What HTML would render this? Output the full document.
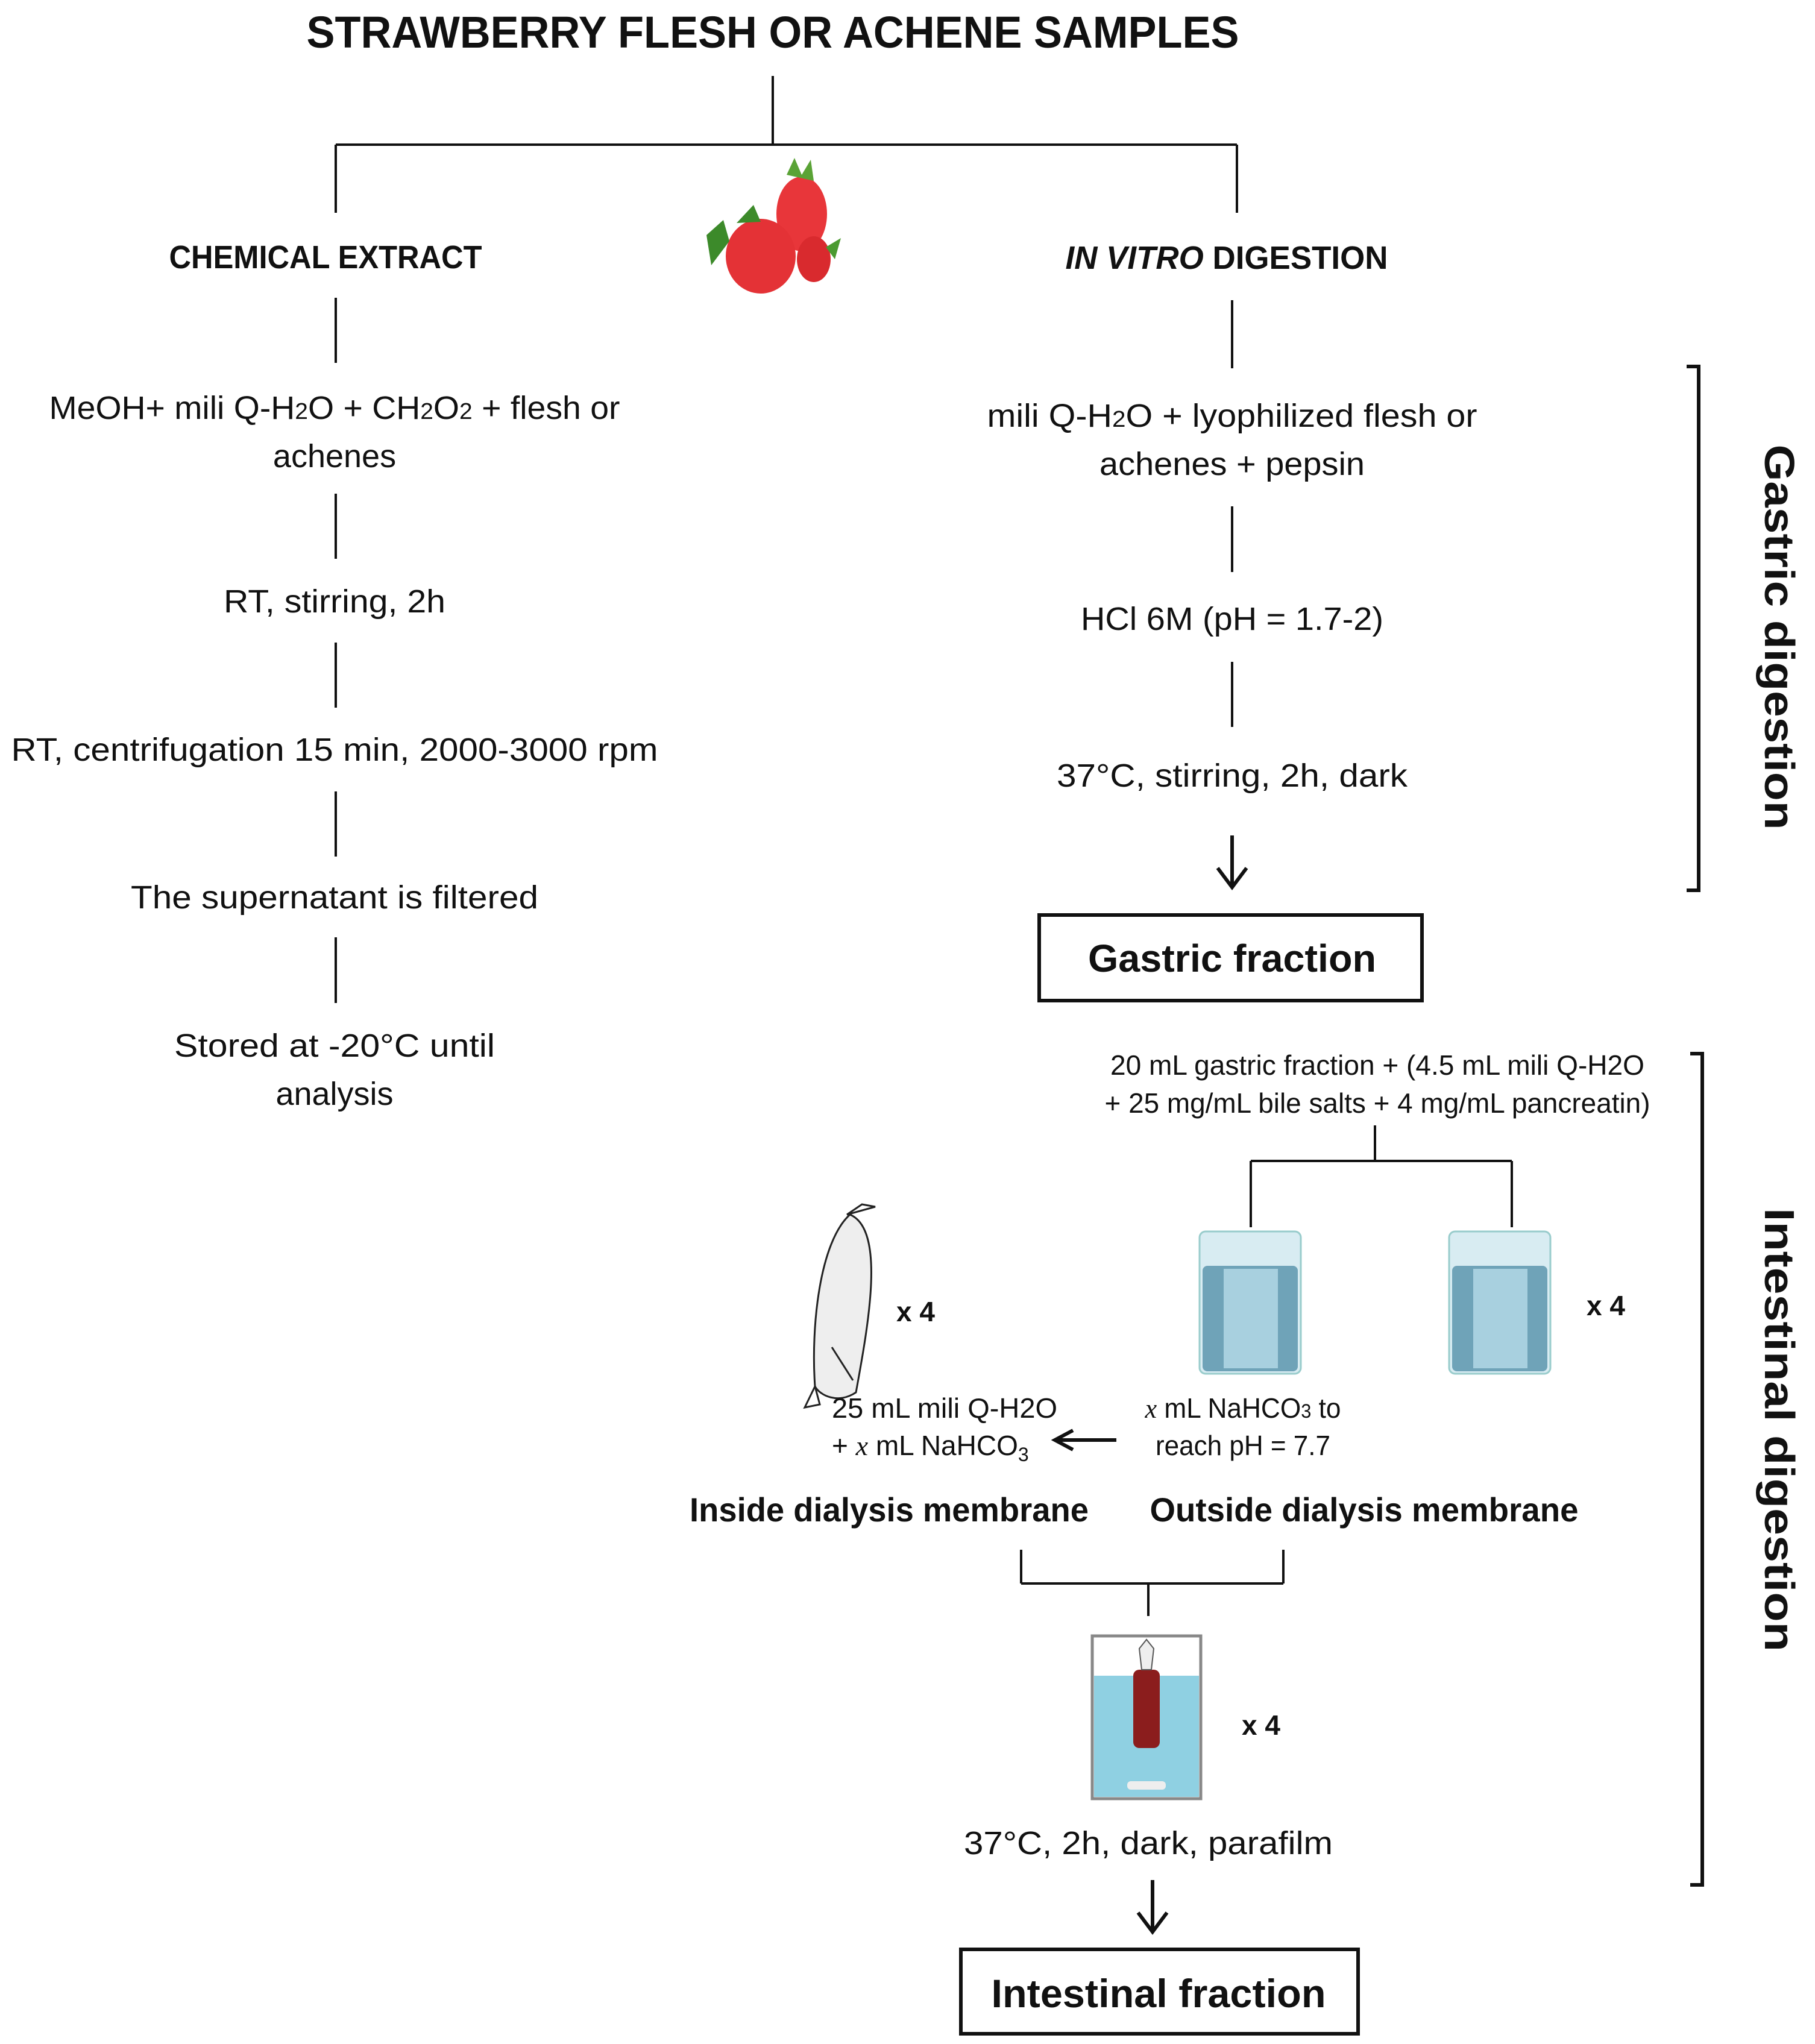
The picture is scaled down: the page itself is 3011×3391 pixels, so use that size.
<!DOCTYPE html>
<html><head><meta charset="utf-8"><style>
html,body{margin:0;padding:0;background:#fff}
svg{display:block}
text{font-family:"Liberation Sans",sans-serif;fill:#111}
.n{font-size:54px}
.b{font-weight:bold}
</style></head><body>
<svg width="3011" height="3391" viewBox="0 0 3011 3391" xmlns="http://www.w3.org/2000/svg">
<g stroke="#111" stroke-width="4" fill="none">
<line x1="1282" y1="126" x2="1282" y2="240"/>
<line x1="557" y1="240" x2="2052" y2="240"/>
<line x1="557" y1="240" x2="557" y2="353"/>
<line x1="2052" y1="240" x2="2052" y2="353"/>
<line x1="557" y1="494" x2="557" y2="602"/>
<line x1="557" y1="819" x2="557" y2="927"/>
<line x1="557" y1="1066" x2="557" y2="1174"/>
<line x1="557" y1="1313" x2="557" y2="1421"/>
<line x1="557" y1="1555" x2="557" y2="1664"/>
<line x1="2044" y1="498" x2="2044" y2="611"/>
<line x1="2044" y1="840" x2="2044" y2="949"/>
<line x1="2044" y1="1098" x2="2044" y2="1206"/>
<line x1="2281" y1="1867" x2="2281" y2="1926"/>
<line x1="2075" y1="1926" x2="2508" y2="1926"/>
<line x1="2075" y1="1926" x2="2075" y2="2036"/>
<line x1="2508" y1="1926" x2="2508" y2="2036"/>
<line x1="1694" y1="2571" x2="1694" y2="2627"/>
<line x1="2129" y1="2571" x2="2129" y2="2627"/>
<line x1="1694" y1="2627" x2="2129" y2="2627"/>
<line x1="1905" y1="2627" x2="1905" y2="2681"/>
</g>
<g stroke="#111" stroke-width="6" fill="none">
<path d="M2044 1386 V1470 M2020 1440 L2044 1472 L2068 1440"/>
<path d="M1912 3119 V3203 M1888 3173 L1912 3205 L1936 3173"/>
<path d="M1852 2389 H1752 M1780 2373 L1750 2389 L1780 2405"/>
<rect x="1724" y="1518" width="635" height="142"/>
<rect x="1594" y="3234" width="659" height="140"/>
<path d="M2798 608 H2818 V1477 H2798"/>
<path d="M2804 1748 H2824 V3127 H2804"/>
</g>
<!-- strawberries -->
<g>
<ellipse cx="1330" cy="355" rx="42" ry="62" fill="#e8363a"/>
<ellipse cx="1262" cy="425" rx="58" ry="62" fill="#e43236"/>
<ellipse cx="1350" cy="430" rx="28" ry="38" fill="#d92a2e"/>
<path d="M1305 290 L1318 262 L1330 290 L1345 265 L1350 300 Z" fill="#5aa336"/>
<path d="M1222 370 L1250 340 L1262 368 Z" fill="#3c8a2a"/>
<path d="M1172 390 L1200 365 L1210 400 L1180 440 Z" fill="#3c8a2a"/>
<path d="M1370 410 L1395 395 L1385 430 Z" fill="#4a9a30"/>
</g>
<!-- beakers -->
<g>
<rect x="1990" y="2043" width="168" height="236" rx="10" fill="#d8ecf2" stroke="#9cc" stroke-width="3"/>
<rect x="1995" y="2100" width="158" height="175" rx="8" fill="#6fa3b8"/>
<rect x="2030" y="2105" width="90" height="165" fill="#a8d0df"/>
<rect x="2404" y="2043" width="168" height="236" rx="10" fill="#d8ecf2" stroke="#9cc" stroke-width="3"/>
<rect x="2409" y="2100" width="158" height="175" rx="8" fill="#6fa3b8"/>
<rect x="2444" y="2105" width="90" height="165" fill="#a8d0df"/>
</g>
<!-- dialysis bag -->
<g stroke="#222" stroke-width="3" fill="#eee">
<path d="M1410 2015 C1470 2040 1440 2200 1420 2310 C1390 2330 1360 2315 1352 2300 C1345 2200 1360 2060 1410 2015 Z"/>
<path d="M1405 2015 L1430 1998 L1452 2002 Z M1352 2300 L1335 2335 L1360 2330 Z" fill="none"/>
<line x1="1415" y1="2290" x2="1380" y2="2235"/>
</g>
<!-- dialysis setup -->
<g>
<rect x="1812" y="2714" width="180" height="270" fill="none" stroke="#888" stroke-width="5"/>
<rect x="1815" y="2780" width="174" height="201" fill="#8fd0e2"/>
<rect x="1880" y="2770" width="44" height="130" rx="10" fill="#8b1d1d"/>
<path d="M1890 2735 L1902 2720 L1914 2735 L1910 2770 L1894 2770 Z" fill="#eee" stroke="#555" stroke-width="2"/>
<rect x="1870" y="2955" width="64" height="14" rx="6" fill="#eee"/>
</g>
<!-- texts -->
<text x="1282" y="79" text-anchor="middle" class="b" font-size="74" textLength="1547" lengthAdjust="spacingAndGlyphs">STRAWBERRY FLESH OR ACHENE SAMPLES</text>
<text x="540" y="445" text-anchor="middle" class="b" font-size="54" textLength="519" lengthAdjust="spacingAndGlyphs">CHEMICAL EXTRACT</text>
<text x="2035" y="446" text-anchor="middle" class="b" font-size="54" textLength="535" lengthAdjust="spacingAndGlyphs"><tspan font-style="italic">IN VITRO</tspan> DIGESTION</text>
<text x="555" y="695" text-anchor="middle" class="n" textLength="947" lengthAdjust="spacingAndGlyphs">MeOH+ mili Q-H<tspan font-size="38">2</tspan>O + CH<tspan font-size="38">2</tspan>O<tspan font-size="38">2</tspan> + flesh or</text>
<text x="555" y="775" text-anchor="middle" class="n">achenes</text>
<text x="555" y="1016" text-anchor="middle" class="n" textLength="368" lengthAdjust="spacingAndGlyphs">RT, stirring, 2h</text>
<text x="555" y="1262" text-anchor="middle" class="n" textLength="1073" lengthAdjust="spacingAndGlyphs">RT, centrifugation 15 min, 2000-3000 rpm</text>
<text x="555" y="1507" text-anchor="middle" class="n" textLength="676" lengthAdjust="spacingAndGlyphs">The supernatant is filtered</text>
<text x="555" y="1753" text-anchor="middle" class="n" textLength="532" lengthAdjust="spacingAndGlyphs">Stored at -20°C until</text>
<text x="555" y="1833" text-anchor="middle" class="n">analysis</text>
<text x="2044" y="708" text-anchor="middle" class="n" textLength="813" lengthAdjust="spacingAndGlyphs">mili Q-H<tspan font-size="38">2</tspan>O + lyophilized flesh or</text>
<text x="2044" y="788" text-anchor="middle" class="n" textLength="440" lengthAdjust="spacingAndGlyphs">achenes + pepsin</text>
<text x="2044" y="1045" text-anchor="middle" class="n" textLength="502" lengthAdjust="spacingAndGlyphs">HCl 6M (pH = 1.7-2)</text>
<text x="2044" y="1305" text-anchor="middle" class="n" textLength="582" lengthAdjust="spacingAndGlyphs">37°C, stirring, 2h, dark</text>
<text x="2044" y="1612" text-anchor="middle" class="b" font-size="64" textLength="478" lengthAdjust="spacingAndGlyphs">Gastric fraction</text>
<text x="2285" y="1783" text-anchor="middle" font-size="46" textLength="886" lengthAdjust="spacingAndGlyphs">20 mL gastric  fraction + (4.5 mL mili Q-H2O</text>
<text x="2285" y="1846" text-anchor="middle" font-size="46" textLength="905" lengthAdjust="spacingAndGlyphs">+ 25 mg/mL bile salts + 4 mg/mL pancreatin)</text>
<text x="1487" y="2192" class="b" font-size="46">x 4</text>
<text x="2632" y="2182" class="b" font-size="46">x 4</text>
<text x="2060" y="2878" class="b" font-size="46">x 4</text>
<text x="1380" y="2352" font-size="46" textLength="374" lengthAdjust="spacingAndGlyphs">25 mL mili Q-H2O</text>
<text x="1380" y="2414" font-size="46">+ <tspan font-style="italic" font-family="Liberation Serif">x</tspan> mL NaHCO<tspan font-size="32" dy="10">3</tspan></text>
<text x="2062" y="2352" text-anchor="middle" font-size="46" textLength="325" lengthAdjust="spacingAndGlyphs"><tspan font-style="italic" font-family="Liberation Serif">x</tspan> mL NaHCO<tspan font-size="32">3</tspan> to</text>
<text x="2062" y="2414" text-anchor="middle" font-size="46" textLength="290" lengthAdjust="spacingAndGlyphs">reach pH = 7.7</text>
<text x="1475" y="2524" text-anchor="middle" class="b" font-size="56" textLength="662" lengthAdjust="spacingAndGlyphs">Inside dialysis membrane</text>
<text x="2263" y="2524" text-anchor="middle" class="b" font-size="56" textLength="711" lengthAdjust="spacingAndGlyphs">Outside dialysis membrane</text>
<text x="1905" y="3076" text-anchor="middle" class="n" textLength="612" lengthAdjust="spacingAndGlyphs">37°C, 2h, dark, parafilm</text>
<text x="1922" y="3330" text-anchor="middle" class="b" font-size="66" textLength="555" lengthAdjust="spacingAndGlyphs">Intestinal fraction</text>
<text transform="translate(2928,1057) rotate(90)" text-anchor="middle" class="b" font-size="70" textLength="639" lengthAdjust="spacingAndGlyphs">Gastric digestion</text>
<text transform="translate(2928,2372) rotate(90)" text-anchor="middle" class="b" font-size="70" textLength="736" lengthAdjust="spacingAndGlyphs">Intestinal digestion</text>
</svg>
</body></html>
